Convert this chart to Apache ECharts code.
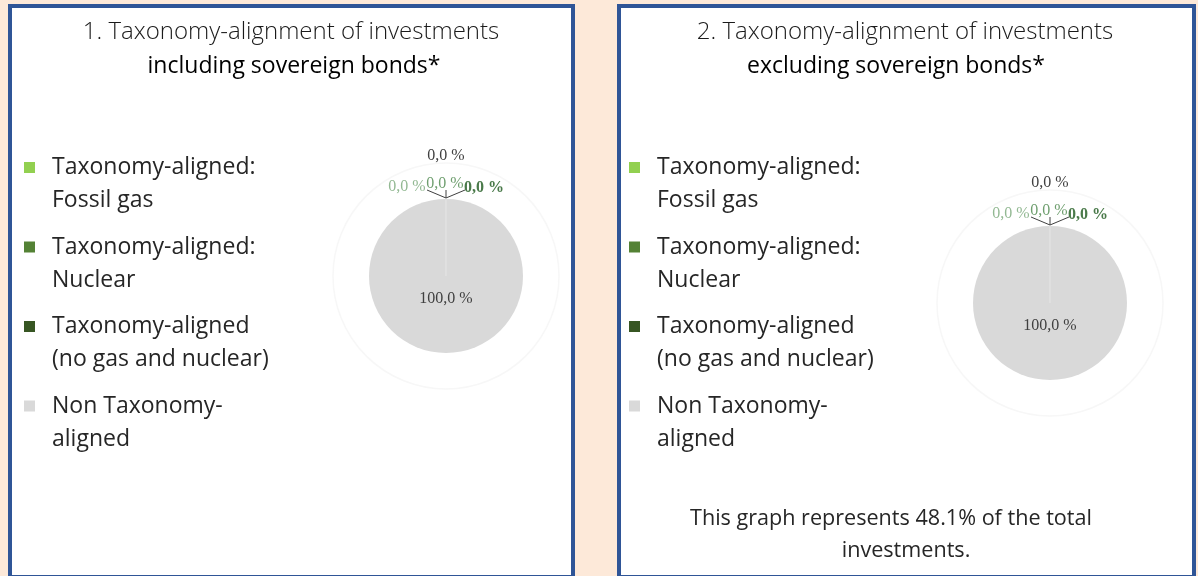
<!DOCTYPE html>
<html>
<head>
<meta charset="utf-8">
<script src="https://cdn.jsdelivr.net/npm/echarts@6/dist/echarts.min.js"></script>
<style>
  html, body { margin: 0; padding: 0; background: #FDE9D9; }
  #chart { width: 1198px; height: 576px; }
</style>
</head>
<body>
<div id="chart"></div>
<script>
// ---- data ----
const categories = [
  'Taxonomy-aligned: Fossil gas',
  'Taxonomy-aligned: Nuclear',
  'Taxonomy-aligned (no gas and nuclear)',
  'Non Taxonomy-aligned',
  'Other'
];
const legendCategories = categories.slice(0, 4);
const legendLabels = [
  'Taxonomy-aligned:\nFossil gas',
  'Taxonomy-aligned:\nNuclear',
  'Taxonomy-aligned\n(no gas and nuclear)',
  'Non Taxonomy-\naligned'
];
const valuesIncludingSovereign = [0.0, 0.0, 0.0, 100.0, 0.0];
const valuesExcludingSovereign = [0.0, 0.0, 0.0, 100.0, 0.0];
const titles1 = ['1. Taxonomy-alignment of investments', 'including sovereign bonds*'];
const titles2 = ['2. Taxonomy-alignment of investments', 'excluding sovereign bonds*'];
const footnote2 = ['This graph represents 48.1% of the total', 'investments.'];

// ---- styles ----
const colors = ['#92D050', '#548235', '#375623', '#D9D9D9', '#404040'];
const labelColors = ['#93b993', '#6f9f6f', '#4a7a4a', '#404040', '#404040'];
const labelWeights = ['normal', 'normal', 'bold', 'normal', 'normal'];
const sansFont = '"Open Sans", "Noto Sans", sans-serif';
const serifFont = '"Liberation Serif", "DejaVu Serif", serif';
const R = 77;
// label offsets relative to pie centre (dx, dy)
const labelOffsets = [[-39, -89], [-1, -92], [38, -88], [0, 23], [0, -120]];
const lineEnds = [[-19, -86], [0, -86], [19, -86], null, null];

function fmt(v) { return v.toFixed(1).replace('.', ',') + ' %'; }

function makeSeries(values, cx, cy) {
  return {
    type: 'pie',
    center: [cx, cy],
    radius: [0, R],
    startAngle: 90,
    clockwise: true,
    avoidLabelOverlap: false,
    animation: false,
    silent: true,
    emphasis: { disabled: true },
    data: values.map((v, i) => ({
      name: categories[i],
      value: v,
      itemStyle: {
        color: colors[i],
        borderWidth: v === 0 ? 1 : 0,
        borderColor: '#e2e2e2'
      },
      label: {
        color: labelColors[i],
        fontWeight: labelWeights[i],
        fontSize: 16,
        fontFamily: serifFont,
        position: v === 0 ? 'outside' : 'inside'
      },
      labelLine: { show: lineEnds[i] !== null }
    })),
    label: {
      show: true,
      fontFamily: serifFont,
      fontSize: 16,
      formatter: p => fmt(p.value)
    },
    labelLine: {
      show: true,
      length: 5,
      length2: 5,
      lineStyle: { color: '#404040', width: 1 }
    },
    labelLayout: function (params) {
      const i = params.dataIndex;
      const o = labelOffsets[i];
      const res = { x: cx + o[0], y: cy + o[1], align: 'center', verticalAlign: 'middle' };
      const e = lineEnds[i];
      if (e) {
        res.labelLinePoints = [[cx, cy - R - 1], [cx + e[0], cy + e[1]], [cx + e[0], cy + e[1]]];
      }
      return res;
    }
  };
}

function makeLegend(left, top) {
  return {
    orient: 'vertical',
    left: left,
    top: top,
    padding: 0,
    itemWidth: 11,
    itemHeight: 11,
    itemGap: -19.5,
    icon: 'rect',
    selectedMode: false,
    data: legendCategories,
    itemStyle: { borderWidth: 0 },
    // leading blank line so the marker lines up with the first text line
    formatter: name => ' \n' + legendLabels[legendCategories.indexOf(name)],
    textStyle: {
      fontFamily: sansFont,
      fontSize: 23,
      lineHeight: 33,
      color: '#262626',
      padding: [0, 0, 0, 12]
    }
  };
}

function text(x, y, str, opts) {
  return {
    type: 'text',
    x: x, y: y,
    silent: true,
    style: Object.assign({
      text: str,
      fill: '#262626',
      font: '21.6px ' + sansFont,
      textAlign: 'center',
      textVerticalAlign: 'middle'
    }, opts || {})
  };
}

const chart = echarts.init(document.getElementById('chart'), null, { renderer: 'canvas' });
const cx1 = 446, cy1 = 276, cx2 = 1050, cy2 = 303;

chart.setOption({
  backgroundColor: '#FDE9D9',
  animation: false,
  legend: [makeLegend(24, 118), makeLegend(629, 118)],
  graphic: [
    { type: 'rect', silent: true, shape: { x: 10, y: 6, width: 563, height: 571 },
      style: { fill: '#ffffff', stroke: '#2F5597', lineWidth: 4 } },
    { type: 'rect', silent: true, shape: { x: 619, y: 6, width: 575, height: 571 },
      style: { fill: '#ffffff', stroke: '#2F5597', lineWidth: 4 } },
    { type: 'circle', silent: true, shape: { cx: cx1, cy: cy1, r: 113 },
      style: { fill: 'none', stroke: '#f7f7f7', lineWidth: 1.5 } },
    { type: 'circle', silent: true, shape: { cx: cx2, cy: cy2, r: 113 },
      style: { fill: 'none', stroke: '#f7f7f7', lineWidth: 1.5 } },
    text(291, 32, titles1[0], { font: '300 24px ' + sansFont, fill: '#1a1a1a' }),
    text(294, 66, titles1[1], { font: '23px ' + sansFont, fill: '#000' }),
    text(905, 32, titles2[0], { font: '300 24px ' + sansFont, fill: '#1a1a1a' }),
    text(896, 66, titles2[1], { font: '23px ' + sansFont, fill: '#000' }),
    text(891, 519, footnote2[0]),
    text(906, 551, footnote2[1])
  ],
  series: [
    makeSeries(valuesIncludingSovereign, cx1, cy1),
    makeSeries(valuesExcludingSovereign, cx2, cy2)
  ]
});
</script>
</body>
</html>
